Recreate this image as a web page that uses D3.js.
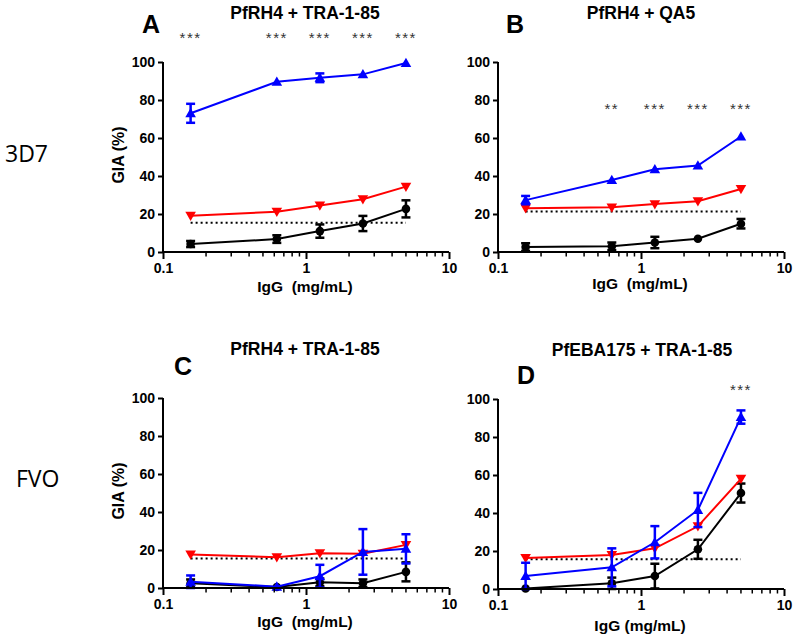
<!DOCTYPE html>
<html><head><meta charset="utf-8">
<script src="https://cdn.jsdelivr.net/npm/d3@7"></script>
<style>body{margin:0;background:#fff}svg{display:block}</style>
</head><body><svg id="c" width="798" height="640"></svg>
<script>
const doses = [0.156, 0.625, 1.25, 2.5, 5];
const yTicks = [0, 20, 40, 60, 80, 100];
const xTicks = [0.1, 1, 10];

const panelLetters = ["A", "B", "C", "D"];
const panelTitles = ["PfRH4 + TRA-1-85", "PfRH4 + QA5", "PfRH4 + TRA-1-85", "PfEBA175 + TRA-1-85"];
const rowLabels = ["3D7", "FVO"];

// Blue (combination, triangle up)
const blueA = [73, 89.6, 91.7, 93.5, 99.5];
const blueAErr = [5, 0.5, 2.3, 0.5, 0.3];
const blueB = [27.3, 37.9, 43.5, 45.5, 60.8];
const blueBErr = [2.2, 0.5, 0.5, 0.5, 0.5];
const blueC = [3.3, 0.7, 6.2, 19, 20.6];
const blueCErr = [3.3, 0.5, 6, 12, 7.7];
const blueD = [6.8, 11.4, 24.6, 41.6, 90.5];
const blueDErr = [7, 10, 8.5, 9, 3.5];

// Red (expected additive, triangle down)
const redA = [19.1, 21.2, 24.5, 27.8, 34.4];
const redB = [23, 23.5, 25.2, 26.7, 33.2];
const redC = [17.6, 16.2, 18.3, 18, 22.7];
const redD = [16.3, 17.9, 21.4, 33, 58];

// Black (single antibody, circle)
const blackA = [4.2, 6.8, 11, 15, 22.7];
const blackAErr = [1.6, 2, 3.5, 4, 4.5];
const blackB = [2.6, 3, 5, 7, 14.9];
const blackBErr = [2, 2, 3, 0.5, 2.5];
const blackC = [2.5, 0.5, 3, 2.5, 8.5];
const blackCErr = [2, 0.5, 2, 2, 5];
const blackD = [0.3, 3, 6.8, 20.9, 50.5];
const blackDErr = [0.3, 3, 6.5, 5, 5];

// Dotted reference line level
const refLevel = [15.4, 21.3, 15.5, 15.6];

// Significance stars per dose
const starsA = ["***", "***", "***", "***", "***"];
const starsB = ["", "**", "***", "***", "***"];
const starsC = ["", "", "", "", ""];
const starsD = ["", "", "", "", "***"];

const panels = [
  {blue: blueA, blueErr: blueAErr, red: redA, black: blackA, blackErr: blackAErr, stars: starsA, starY: 37, ox: 163, oy: 62, lx: 142, ly: 33, tx: 305, ty: 19, ylab: true, xl: 40},
  {blue: blueB, blueErr: blueBErr, red: redB, black: blackB, blackErr: blackBErr, stars: starsB, starY: 108, ox: 498, oy: 62, lx: 506, ly: 33, tx: 641, ty: 19, ylab: false, xl: 37},
  {blue: blueC, blueErr: blueCErr, red: redC, black: blackC, blackErr: blackCErr, stars: starsC, starY: 0, ox: 163, oy: 398, lx: 174, ly: 375, tx: 305, ty: 355, ylab: true, xl: 39},
  {blue: blueD, blueErr: blueDErr, red: redD, black: blackD, blackErr: blackDErr, stars: starsD, starY: 389, ox: 498, oy: 399, lx: 517, ly: 384, tx: 642, ty: 356, ylab: false, xl: 42}
];

const W = 286, H = 190;
const svg = d3.select("#c");
const font = "'Liberation Sans', Arial, sans-serif";

panels.forEach((p, i) => {
  const g = svg.append("g").attr("transform", `translate(${p.ox},${p.oy})`);
  const x = d3.scaleLog().domain([0.1, 10]).range([0, W]);
  const y = d3.scaleLinear().domain([0, 100]).range([H, 0]);

  // dotted reference line
  g.append("line")
    .attr("x1", x(doses[0])).attr("x2", x(doses[4]))
    .attr("y1", y(refLevel[i])).attr("y2", y(refLevel[i]))
    .attr("stroke", "#000").attr("stroke-width", 2).attr("stroke-dasharray", "2,3");

  const line = d3.line().x((d, j) => x(doses[j])).y(d => y(d));
  const series = [
    {vals: p.black, err: p.blackErr, color: "#000", sym: "circle"},
    {vals: p.red, err: null, color: "#ff0000", sym: "down"},
    {vals: p.blue, err: p.blueErr, color: "#0000ff", sym: "up"}
  ];
  series.forEach(s => {
    g.append("path").datum(s.vals).attr("d", line)
      .attr("fill", "none").attr("stroke", s.color).attr("stroke-width", 2);
    if (s.err) {
      s.vals.forEach((v, j) => {
        const e = s.err[j];
        if (e < 0.8) return;
        const cx = x(doses[j]);
        const eg = g.append("g").attr("stroke", s.color).attr("stroke-width", 2.5);
        eg.append("line").attr("x1", cx).attr("x2", cx).attr("y1", y(Math.max(0, v - e))).attr("y2", y(v + e));
        eg.append("line").attr("x1", cx - 4.5).attr("x2", cx + 4.5).attr("y1", y(v + e)).attr("y2", y(v + e));
        eg.append("line").attr("x1", cx - 4.5).attr("x2", cx + 4.5).attr("y1", y(Math.max(0, v - e))).attr("y2", y(Math.max(0, v - e)));
      });
    }
    s.vals.forEach((v, j) => {
      const cx = x(doses[j]), cy = y(v);
      if (s.sym === "circle") {
        g.append("circle").attr("cx", cx).attr("cy", cy).attr("r", 4.3).attr("fill", s.color);
      } else {
        const r = 5.3;
        const pts = s.sym === "up"
          ? [[cx, cy - r], [cx - r, cy + r * 0.75], [cx + r, cy + r * 0.75]]
          : [[cx, cy + r], [cx - r, cy - r * 0.75], [cx + r, cy - r * 0.75]];
        g.append("polygon").attr("points", pts.map(q => q.join(",")).join(" ")).attr("fill", s.color);
      }
    });
  });

  // axes
  const yAxis = d3.axisLeft(y).tickValues(yTicks).tickSize(5).tickPadding(3);
  const ya = g.append("g").call(yAxis);
  ya.select(".domain").attr("stroke-width", 2).attr("d", `M0,${H + 1}V0`);
  ya.selectAll(".tick line").attr("stroke-width", 2);
  ya.selectAll("text").attr("font-family", font).attr("font-weight", "bold").attr("font-size", 14).attr("fill", "#000");

  const minor = [];
  [0.1, 1].forEach(b => { for (let k = 2; k <= 9; k++) minor.push(b * k); });
  const xa = g.append("g").attr("transform", `translate(0,${H})`)
    .call(d3.axisBottom(x).tickValues(xTicks).tickFormat(d3.format("~g")).tickSize(7).tickPadding(4));
  xa.select(".domain").attr("stroke-width", 2).attr("d", `M-1,0H${W}`);
  xa.selectAll(".tick line").attr("stroke-width", 2);
  xa.selectAll("text").attr("font-family", font).attr("font-weight", "bold").attr("font-size", 14).attr("fill", "#000");
  xa.selectAll(".minor").data(minor).enter().append("line").attr("class", "minor")
    .attr("x1", d => x(d)).attr("x2", d => x(d)).attr("y1", 0).attr("y2", 4.5)
    .attr("stroke", "#000").attr("stroke-width", 1.5);

  g.append("text").attr("x", W / 2 - 1).attr("y", H + p.xl).attr("text-anchor", "middle")
    .attr("font-family", font).attr("font-weight", "bold").attr("font-size", 15.5)
    .attr("xml:space", "preserve")
    .text(i === 3 ? "IgG (mg/mL)" : "IgG  (mg/mL)");

  if (p.ylab) {
    g.append("text").attr("transform", `translate(-39,${H / 2 - 2}) rotate(-90)`).attr("text-anchor", "middle")
      .attr("font-family", font).attr("font-weight", "bold").attr("font-size", 16).text("GIA (%)");
  }

  // stars
  p.stars.forEach((s, j) => {
    if (!s) return;
    svg.append("text").attr("x", p.ox + x(doses[j])).attr("y", p.starY + 6).attr("text-anchor", "middle")
      .attr("font-family", font).attr("font-size", 15).attr("letter-spacing", 1.5).attr("fill", "#333").text(s);
  });

  svg.append("text").attr("x", p.lx).attr("y", p.ly).attr("font-family", font).attr("font-weight", "bold")
    .attr("font-size", 25).text(panelLetters[i]);
  svg.append("text").attr("x", p.tx).attr("y", p.ty).attr("text-anchor", "middle").attr("font-family", font)
    .attr("font-weight", "bold").attr("font-size", 17.5).text(panelTitles[i]);
});

svg.append("text").attr("x", 5).attr("y", 162).attr("font-family", "'Open Sans', sans-serif").attr("font-size", 23).text(rowLabels[0]);
svg.append("text").attr("x", 16).attr("y", 487).attr("font-family", "'Open Sans', sans-serif").attr("font-size", 23).text(rowLabels[1]);
</script></body></html>
